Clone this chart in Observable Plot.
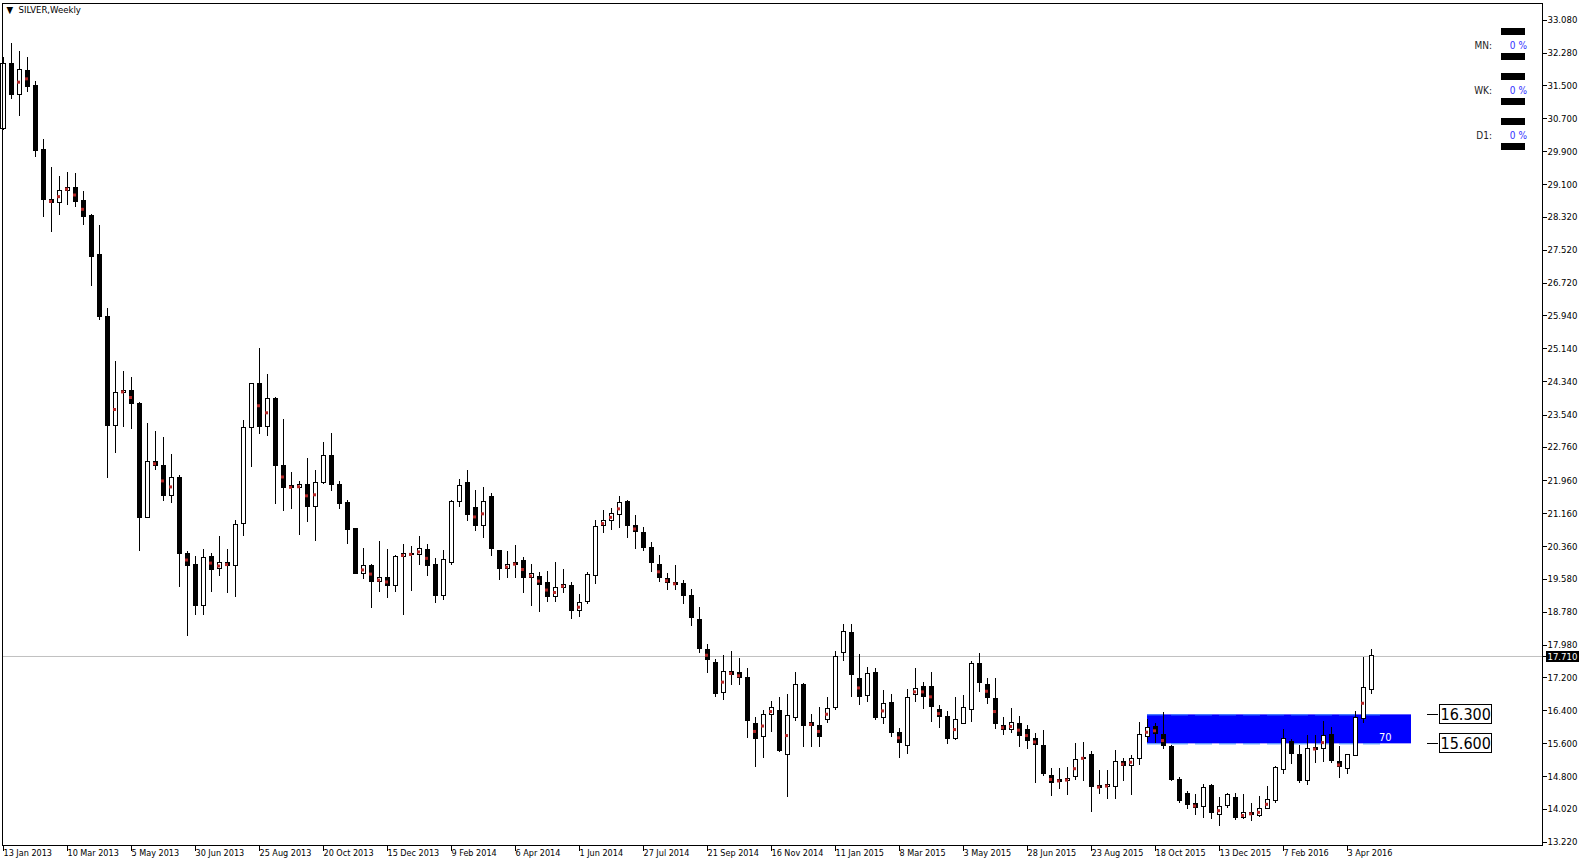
<!DOCTYPE html>
<html><head><meta charset="utf-8">
<script src="https://cdn.jsdelivr.net/npm/d3@7"></script>
<script src="https://cdn.jsdelivr.net/npm/@observablehq/plot@0.6"></script>
<style>
html,body{margin:0;padding:0;background:#fff;}
#chart svg{display:block;}
</style></head><body><div id="chart"></div>
<script>
// ---- data (weekly SILVER candles, first bar = week of 13 Jan 2013) ----
const opens = [30.46,32.03,31.28,31.86,31.48,29.93,28.74,28.67,28.96,29.03,28.70,28.34,27.40,25.91,23.27,24.07,24.13,23.81,21.05,22.41,
22.32,21.58,22.03,20.19,19.91,18.94,20.12,19.82,19.97,19.89,20.91,23.23,24.28,23.25,23.94,22.32,21.82,21.77,21.86,21.32,
21.90,22.56,21.86,21.41,20.78,19.70,19.90,19.50,19.61,19.41,20.11,20.19,20.17,20.27,19.93,19.17,19.96,21.44,21.89,21.30,
20.86,21.55,20.25,19.82,19.97,20.02,19.60,19.63,19.49,19.14,19.37,19.42,18.80,19.02,19.66,20.86,20.98,21.13,21.45,20.87,
20.70,20.34,19.91,19.59,19.49,19.47,19.16,18.58,17.86,17.56,16.84,17.34,17.30,17.18,16.09,15.76,16.29,16.40,15.33,16.23,
17.03,16.11,16.04,16.18,16.47,17.80,18.28,17.17,16.76,17.31,16.22,16.59,15.87,15.54,16.78,16.98,16.98,16.42,16.25,15.71,
16.08,16.42,17.53,17.03,16.69,16.04,15.94,16.08,15.94,15.72,15.56,14.83,14.73,14.70,14.79,15.26,15.33,14.58,14.55,14.55,
15.16,15.07,15.24,15.77,16.00,15.82,15.53,14.73,14.38,14.15,14.08,14.57,13.89,14.10,14.30,13.81,13.93,13.86,14.03,14.22,
14.97,15.64,15.34,14.70,15.50,15.48,15.81,15.15,14.99,15.30,16.21,16.91];
const highs = [32.17,32.51,32.32,32.17,31.60,30.20,29.52,29.30,29.39,29.37,28.93,28.38,28.12,26.12,24.83,24.59,24.44,23.84,23.33,23.14,
22.99,22.58,22.07,20.25,20.12,20.30,20.19,20.61,20.30,20.99,23.42,24.28,25.15,24.52,23.97,23.43,22.15,21.93,22.49,22.20,
22.88,23.09,21.93,21.48,20.80,20.32,19.92,20.49,20.30,20.16,20.42,20.37,20.61,20.42,20.08,20.27,21.47,21.99,22.20,21.72,
21.79,21.65,20.27,20.25,20.39,20.11,19.92,19.73,19.76,19.97,19.80,19.49,19.20,19.73,20.99,21.24,21.28,21.58,21.48,21.12,
20.82,20.46,20.15,19.71,19.91,19.55,19.33,18.89,18.00,17.64,17.73,17.83,17.66,17.42,16.24,16.41,16.62,16.72,16.79,17.32,
17.06,16.31,16.47,16.71,17.82,18.48,18.48,17.76,17.44,17.41,16.89,16.79,15.96,16.91,17.41,17.07,17.32,16.52,16.37,16.71,
16.76,17.58,17.78,17.17,17.17,16.23,16.45,16.25,16.04,15.84,15.92,15.00,15.00,15.02,15.60,15.64,15.41,14.95,14.95,15.43,
15.24,15.31,16.11,16.18,16.08,16.35,15.56,14.78,14.46,14.38,14.61,14.63,14.30,14.39,14.39,14.37,14.17,14.32,14.56,15.05,
15.94,15.70,15.57,15.79,15.79,16.13,15.99,15.54,15.34,16.39,17.68,17.88];
const lows = [30.41,31.16,30.76,31.34,29.75,28.32,27.96,28.36,28.59,28.56,28.13,26.65,25.83,22.02,22.62,23.25,23.20,20.25,21.05,22.20,
21.46,21.41,19.38,18.20,18.70,18.70,19.26,19.65,19.22,19.14,20.60,22.28,23.08,23.03,21.39,21.20,21.27,20.62,20.95,20.49,
21.86,21.70,21.27,20.42,19.68,19.58,18.87,19.26,19.12,19.26,18.71,19.29,19.90,19.63,19.00,19.05,19.91,21.32,20.98,20.74,
20.57,20.13,19.55,19.60,19.60,19.22,18.92,18.78,19.02,19.02,19.22,18.61,18.66,18.97,19.46,20.69,20.76,20.81,20.57,20.30,
20.25,19.75,19.50,19.31,19.31,18.97,18.44,17.79,17.31,16.73,16.65,17.00,17.00,15.74,15.04,15.25,15.88,15.40,14.31,16.15,
15.52,15.50,15.52,16.10,16.41,17.60,16.73,16.53,16.60,16.17,16.07,15.76,15.25,15.35,16.60,16.44,16.12,15.98,15.59,15.69,
16.08,16.12,16.85,16.54,15.95,15.79,15.86,15.50,15.47,14.65,14.82,14.33,14.50,14.36,14.72,14.70,13.95,14.38,14.26,14.26,
14.70,14.36,15.08,15.63,15.60,15.47,14.70,14.16,14.02,13.88,13.80,13.77,13.60,14.03,13.74,13.77,13.72,13.81,14.01,14.17,
14.87,15.11,14.65,14.60,15.13,15.16,15.13,14.77,14.87,15.30,16.08,16.78];
const closes = [32.03,31.28,31.88,31.46,29.92,28.73,28.66,28.96,29.03,28.68,28.32,27.35,25.91,23.27,24.08,24.13,23.80,21.05,22.41,22.32,
21.58,22.03,20.18,19.89,18.94,20.10,19.81,19.97,19.89,20.89,23.23,24.28,23.25,23.94,22.31,21.77,21.77,21.85,21.32,21.91,
22.56,21.85,21.39,20.76,19.70,19.90,19.50,19.61,19.41,20.12,20.19,20.16,20.30,19.89,19.17,20.03,21.45,21.82,21.12,20.86,
21.45,20.30,19.82,19.92,19.91,19.60,19.71,19.43,19.14,19.37,19.44,18.80,19.00,19.68,20.84,20.98,21.16,21.42,20.86,20.71,
20.33,19.96,19.60,19.49,19.44,19.17,18.63,17.89,17.62,16.80,17.34,17.26,17.19,16.15,15.71,16.30,16.47,15.42,16.27,17.01,
16.03,16.03,15.76,16.45,17.70,18.31,17.26,16.73,17.29,16.22,16.57,15.86,15.62,16.71,16.93,16.73,16.49,16.24,15.71,16.18,
16.47,17.53,17.07,16.71,16.07,15.94,16.10,15.78,15.66,15.57,14.87,14.65,14.68,14.75,15.21,15.24,14.55,14.53,14.61,15.16,
15.06,15.24,15.82,15.99,15.83,15.54,14.72,14.21,14.12,14.05,14.54,13.93,14.08,14.37,13.80,13.93,13.89,14.03,14.25,15.02,
15.72,15.35,14.70,15.48,15.45,15.78,15.18,15.03,15.33,16.23,16.95,17.71];
// bars that carry the small red marker
const markedBars = [2,3,6,7,8,9,10,14,15,16,19,20,21,23,26,27,28,32,33,35,36,37,38,39,45,46,47,48,50,51,52,53,59,60,63,64,65,66,67,68,69,70,
72,75,76,77,79,82,83,84,88,90,91,92,94,95,96,98,101,102,103,107,110,112,114,115,116,117,119,123,124,125,126,127,128,129,
131,132,133,134,135,137,138,140,141,143,144,145,149,152,155,156,157,158,164,165,167,170];
const xTickLabels = ["13 Jan 2013","10 Mar 2013","5 May 2013","30 Jun 2013","25 Aug 2013","20 Oct 2013","15 Dec 2013","9 Feb 2014",
"6 Apr 2014","1 Jun 2014","27 Jul 2014","21 Sep 2014","16 Nov 2014","11 Jan 2015","8 Mar 2015","3 May 2015","28 Jun 2015",
"23 Aug 2015","18 Oct 2015","13 Dec 2015","7 Feb 2016","3 Apr 2016"];
const barsPerTick = 8;
const yTickValues = [33.08,32.28,31.5,30.7,29.9,29.1,28.32,27.52,26.72,25.94,25.14,24.34,23.54,22.76,21.96,21.16,20.36,19.58,18.78,17.98,
17.2,16.4,15.6,14.8,14.02,13.22];
const zone = {start: 143, end: 176, low: 15.6, high: 16.3, text: "70"};
const levelLines = [{price: 16.3, start: 143, end: 173}, {price: 15.6, start: 143, end: 173}];
const levelLabels = [{price: 16.3, bar: 178, text: "16.300"}, {price: 15.6, bar: 178, text: "15.600"}];
const indicatorRows = ["MN:", "WK:", "D1:"];
const indicatorValues = ["0 %", "0 %", "0 %"];
const title = "SILVER,Weekly";

// ---- build ----
const candles = opens.map((o, i) => ({i, open: o, high: highs[i], low: lows[i], close: closes[i]}));
const markers = markedBars.map(i => candles[i]);
const last = closes[closes.length - 1];
const xTicks = xTickLabels.map((_, k) => k * barsPerTick);
const FONT = "Tahoma, 'DejaVu Sans Condensed', 'DejaVu Sans', sans-serif";

const chart = Plot.plot({
  width: 1582, height: 866,
  marginLeft: 2, marginRight: 40, marginTop: 3, marginBottom: 21,
  style: {fontFamily: FONT, fontSize: "9px", background: "#fff", color: "#000", overflow: "visible"},
  x: {type: "linear", domain: [-0.125, 192.375]},
  y: {domain: [13.145, 33.48]},
  marks: [
    Plot.rect([zone], {x1: "start", x2: "end", y1: "low", y2: "high", fill: "#0000ff"}),
    Plot.ruleY(levelLines, {y: "price", x1: "start", x2: "end", stroke: "#3d8bff", strokeDasharray: "17,7"}),
    Plot.text([zone], {x: "end", y: d => (d.low + d.high) / 2, text: "text", textAnchor: "end", dx: -20, dy: 8, fill: "#fff", fontSize: 11}),
    Plot.ruleY([last], {stroke: "#c0c0c0"}),
    Plot.ruleX(candles, {x: "i", y1: "low", y2: "high", stroke: "#000", shapeRendering: "crispEdges"}),
    Plot.rect(candles, {x1: d => d.i - 0.25, x2: d => d.i + 0.25, y1: "open", y2: "close",
      fill: d => d.close >= d.open ? "#fff" : "#000", stroke: "#000", shapeRendering: "crispEdges"}),
    Plot.dot(markers, {x: "i", y: d => (d.open + d.close) / 2, symbol: "square", r: 1.7, fill: "#b52626", stroke: "none", dx: -1}),
    Plot.frame({stroke: "#000", shapeRendering: "crispEdges"}),
    Plot.axisY(yTickValues.concat([last]), {anchor: "right", tickSize: 4, tickPadding: 1, tickFormat: d => d.toFixed(3),
      fontSize: 9.5, fill: "#000", shapeRendering: "crispEdges"}),
    Plot.axisX(xTicks, {anchor: "bottom", tickSize: 6, tickPadding: -2, textAnchor: "start", dx: 0,
      tickFormat: d => xTickLabels[d / barsPerTick], fontSize: 9, shapeRendering: "crispEdges"}),
    Plot.ruleY(levelLabels, {y: "price", x1: "bar", x2: d => d.bar + 1.4, stroke: "#000", shapeRendering: "crispEdges"}),
    Plot.text(levelLabels, {x: "bar", y: "price", text: "text", textAnchor: "start", dx: 13, fontSize: 16, fill: "#000",
      className: "level-label"}),
    Plot.text(["\u25BC  " + title], {frameAnchor: "top-left", dx: 4, dy: 3, textAnchor: "start", fontSize: 9.5, lineAnchor: "top"})
  ]
});
document.getElementById("chart").appendChild(chart);

const svg = d3.select(chart);
function boxBehind(node, opts) {
  const b = node.getBBox();
  const t = node.getAttribute("transform");
  const r = document.createElementNS("http://www.w3.org/2000/svg", "rect");
  r.setAttribute("x", b.x - opts.padX); r.setAttribute("y", b.y - opts.padY);
  r.setAttribute("width", b.width + 2 * opts.padX); r.setAttribute("height", b.height + 2 * opts.padY);
  r.setAttribute("fill", opts.fill); r.setAttribute("stroke", opts.stroke || "none");
  r.setAttribute("shape-rendering", "crispEdges");
  if (t) r.setAttribute("transform", t);
  node.parentNode.insertBefore(r, node);
}
// indicator panel rows (MN / WK / D1)
const fw = 1542; // right edge of plotting frame (width - marginRight)
indicatorRows.forEach((lab, k) => {
  const cy = 45 + k * 45;
  svg.append("rect").attr("x", fw - 41).attr("y", cy - 17).attr("width", 24).attr("height", 7).attr("fill", "#000");
  svg.append("rect").attr("x", fw - 41).attr("y", cy + 8).attr("width", 24).attr("height", 7).attr("fill", "#000");
  svg.append("text").attr("x", fw - 50).attr("y", cy).attr("dy", "0.35em").attr("text-anchor", "end")
    .attr("font-size", 10).attr("fill", "#222").attr("font-family", FONT).text(lab);
  svg.append("text").attr("x", fw - 15).attr("y", cy).attr("dy", "0.35em").attr("text-anchor", "end")
    .attr("font-size", 10).attr("fill", "#3030ff").attr("font-family", FONT).text(indicatorValues[k]);
});
// highlighted current-price tag on the price axis
svg.selectAll("[aria-label='y-axis tick label'] text").filter(function() { return this.textContent === last.toFixed(3); })
  .each(function() { boxBehind(this, {padX: 2, padY: 0, fill: "#000"}); this.setAttribute("fill", "#fff"); });
// boxed level labels
svg.selectAll(".level-label text").each(function() { boxBehind(this, {padX: 1, padY: 0, fill: "#fff", stroke: "#000"}); });
</script></body></html>
